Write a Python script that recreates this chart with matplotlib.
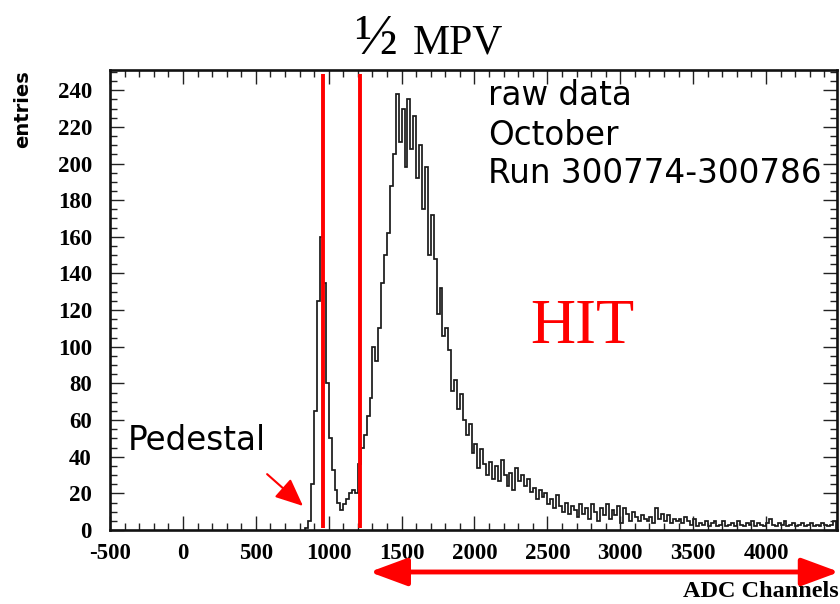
import numpy as np
import matplotlib
matplotlib.use("Agg")
from matplotlib import pyplot as plt
from matplotlib.patches import FancyArrowPatch
from matplotlib.ticker import MultipleLocator

plt.rcParams['axes.unicode_minus'] = False

# histogram of ADC channels, 20 channel bins starting at 840
bin_start = 840
bin_width = 20
counts = [
    1, 5, 25, 65, 125, 160, 135, 80, 50, 33,
    22, 15, 11, 14, 17, 20, 22, 20, 36, 45,
    52, 62, 72, 100, 92, 110, 135, 150, 162, 188,
    205, 238, 212, 230, 198, 235, 208, 226, 192, 210,
    175, 198, 150, 172, 148, 118, 132, 106, 110, 98,
    76, 82, 66, 74, 60, 52, 58, 42, 47, 34,
    44, 36, 30, 37, 28, 35, 27, 38, 30, 24,
    31, 22, 34, 27, 30, 24, 28, 21, 23, 17,
    22, 18, 20, 14, 17, 12, 19, 13, 10, 15,
    9, 13, 11, 7, 14, 9, 12, 6, 14, 10,
    5, 12, 8, 14, 6, 11, 8, 13, 4, 12,
    9, 5, 10, 7, 5, 8, 6, 5, 7, 4,
    12, 6, 9, 5, 8, 4, 6, 5, 6, 4,
    7, 5, 3, 6, 2, 4, 3, 5, 2, 4,
    5, 2, 3, 5, 2, 3, 4, 2, 5, 3,
    2, 4, 3, 5, 2, 4, 3, 2, 4, 6,
    3, 2, 4, 3, 5, 2, 3, 4, 2, 3,
    4, 2, 3, 4, 2, 3, 2, 4, 3, 2,
    3, 5,
]
cut_lines = [958, 1212]   # red vertical markers
x_ticks = [-500, 0, 500, 1000, 1500, 2000, 2500, 3000, 3500, 4000]
y_ticks = [0, 20, 40, 60, 80, 100, 120, 140, 160, 180, 200, 220, 240]

serif = "Liberation Serif"
sans = "DejaVu Sans"

fig = plt.figure(figsize=(8.4, 6.04), dpi=100)
ax = fig.add_axes([0.131, 0.1225, 0.866, 0.7615])

edges = bin_start + bin_width * np.arange(len(counts) + 1)
ax.stairs(counts, edges, color="#1a1a1a", lw=1.25)

for c in cut_lines:
    ax.plot([c, c], [1, 249], color="red", lw=2.8, solid_capstyle="butt")

ax.set_xlim(-500, 4490)
ax.set_ylim(0, 251)
ax.set_xticks(x_ticks)
ax.set_yticks(y_ticks)
ax.xaxis.set_minor_locator(MultipleLocator(100))
ax.yaxis.set_minor_locator(MultipleLocator(5))
ax.tick_params(which="both", direction="in", top=True, right=True, width=1.0, color="#222")
ax.tick_params(which="major", length=10)
ax.tick_params(which="minor", length=5)
ax.tick_params(axis="x", pad=9)
ax.tick_params(axis="y", pad=13)
for lab in ax.get_xticklabels() + ax.get_yticklabels():
    lab.set_fontfamily(serif)
    lab.set_fontweight("bold")
    lab.set_fontsize(16.5)
for s in ax.spines.values():
    s.set_linewidth(1.9)
    s.set_color("#111")

# labels
fig.text(0.027, 0.884, "entries", rotation=90, ha="center", va="top",
         fontfamily=sans, fontweight="bold", fontsize=14)
fig.text(0.998, 0.003, "ADC Channels", ha="right", va="bottom",
         fontfamily=serif, fontweight="bold", fontsize=17.5)

# title
fig.text(0.421, 0.91, "½", ha="left", va="baseline", fontfamily=serif, fontsize=41)
fig.text(0.491, 0.912, "MPV", ha="left", va="baseline", fontfamily=serif, fontsize=30)

# annotations
fig.text(0.581, 0.826, "raw data", fontfamily=sans, fontsize=23.5, va="baseline")
fig.text(0.581, 0.760, "October", fontfamily=sans, fontsize=23.5, va="baseline")
fig.text(0.581, 0.697, "Run 300774-300786", fontfamily=sans, fontsize=23.5, va="baseline")
fig.text(0.631, 0.432, "HIT", color="red", fontfamily=serif, fontsize=45, va="baseline")
fig.text(0.152, 0.255, "Pedestal", fontfamily=sans, fontsize=23.5, va="baseline")

arr = FancyArrowPatch((0.318, 0.215), (0.3607, 0.1623), transform=fig.transFigure,
                      arrowstyle="-|>,head_length=1.7,head_width=0.75",
                      mutation_scale=10, color="red", lw=1.5,
                      shrinkA=0, shrinkB=0)
fig.patches.append(arr)

hit_arr = FancyArrowPatch((0.440, 0.053), (0.999, 0.053), transform=fig.transFigure,
                          arrowstyle="<|-|>,head_length=0.46,head_width=0.17",
                          mutation_scale=50, color="red", lw=3.5,
                          shrinkA=0, shrinkB=0)
fig.patches.append(hit_arr)

fig.savefig("out.png", dpi=100)
